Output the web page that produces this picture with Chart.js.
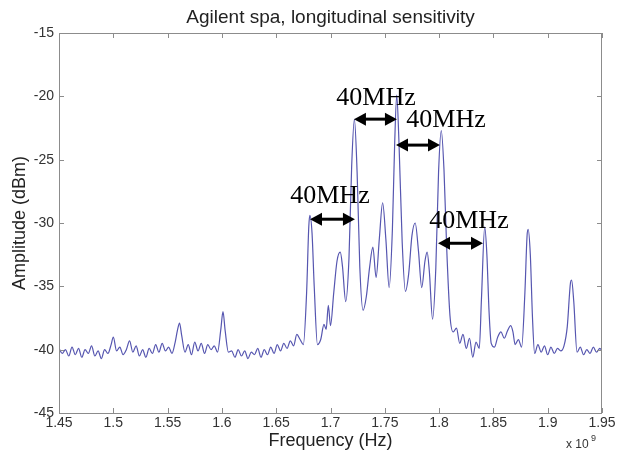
<!DOCTYPE html>
<html lang="en">
<head>
<meta charset="utf-8">
<title>Agilent spa, longitudinal sensitivity</title>
<style>
  html, body { margin: 0; padding: 0; background: #fff; }
  #wrap { width: 618px; height: 450px; }
</style>
</head>
<body>
<div id="wrap"><canvas id="spec" width="618" height="450"></canvas></div>
<script src="https://cdn.jsdelivr.net/npm/chart.js"></script>
<script>
  // frequency in GHz (axis shows x 10^9), amplitude in dBm
  const freq = [
    1.450, 1.453, 1.456, 1.459, 1.462, 1.465, 1.468, 1.471, 1.474, 1.477,
    1.480, 1.483, 1.486, 1.489, 1.492, 1.495, 1.498, 1.500, 1.503, 1.506,
    1.509, 1.512, 1.515, 1.518, 1.521, 1.524, 1.527, 1.530, 1.533, 1.536,
    1.539, 1.542, 1.545, 1.548, 1.551, 1.554, 1.557, 1.559, 1.561, 1.563,
    1.566, 1.569, 1.572, 1.575, 1.578, 1.581, 1.584, 1.587, 1.590, 1.593,
    1.596, 1.599, 1.601, 1.603, 1.606, 1.609, 1.612, 1.615, 1.618, 1.621,
    1.624, 1.627, 1.630, 1.633, 1.636, 1.639, 1.642, 1.645, 1.648, 1.651,
    1.654, 1.657, 1.660, 1.663, 1.666, 1.669, 1.672, 1.675, 1.678, 1.680,
    1.681, 1.683, 1.685, 1.688, 1.691, 1.694, 1.696, 1.698, 1.700, 1.703,
    1.706, 1.709, 1.711, 1.714, 1.717, 1.7195, 1.722, 1.7245, 1.727, 1.730,
    1.733, 1.736, 1.739, 1.742, 1.745, 1.748, 1.751, 1.754, 1.757, 1.759,
    1.761, 1.763, 1.766, 1.769, 1.772, 1.775, 1.778, 1.781, 1.784, 1.787,
    1.789, 1.791, 1.794, 1.797, 1.7995, 1.802, 1.8045, 1.807, 1.810, 1.813,
    1.816, 1.819, 1.822, 1.825, 1.828, 1.831, 1.834, 1.837, 1.839, 1.842,
    1.844, 1.846, 1.848, 1.851, 1.854, 1.857, 1.860, 1.863, 1.866, 1.868,
    1.870, 1.873, 1.876, 1.879, 1.881, 1.882, 1.884, 1.886, 1.888, 1.891,
    1.894, 1.897, 1.900, 1.903, 1.906, 1.909, 1.912, 1.915, 1.918, 1.921,
    1.922, 1.924, 1.927, 1.930, 1.933, 1.936, 1.939, 1.942, 1.945, 1.948,
    1.950
  ];
  const amp = [
    -39.9, -40.3, -40.0, -40.5, -39.8, -40.4, -39.9, -40.6, -40.0, -40.3,
    -39.7, -40.5, -40.1, -40.7, -40.0, -40.3, -39.6, -39.0, -40.1, -39.8,
    -40.4, -40.0, -39.3, -40.2, -39.7, -40.5, -40.0, -40.6, -39.9, -40.3,
    -39.6, -40.2, -39.5, -40.1, -39.8, -40.3, -39.4, -38.5, -37.9, -38.9,
    -40.2, -39.6, -40.4, -39.4, -40.1, -39.5, -40.3, -39.6, -40.0, -39.7,
    -40.2, -38.4, -37.0, -38.5, -40.2, -40.1, -40.6, -40.0, -40.5, -40.1,
    -40.7, -40.2, -40.4, -39.9, -40.6, -40.0, -40.4, -39.8, -40.3, -39.6,
    -40.1, -39.5, -39.9, -39.3, -39.7, -38.8, -39.2, -39.6, -35.5, -30.3,
    -29.4, -30.8, -35.0, -39.6, -39.2, -38.0, -38.4, -36.5, -38.1, -35.5,
    -33.0, -32.3, -33.4, -36.2, -32.8, -25.5, -21.8, -26.0, -33.5, -36.9,
    -35.8, -33.5, -31.9, -34.3, -31.2, -28.4, -31.3, -35.1, -30.5, -24.0,
    -19.9, -23.5, -31.5, -35.4, -34.0, -31.0, -30.0, -32.2, -35.1, -33.0,
    -32.3, -33.8, -37.6, -33.5, -26.0, -22.7, -25.8, -32.0, -37.3, -38.6,
    -38.3, -39.5, -38.8, -39.9, -39.1, -40.6, -39.4, -39.9, -36.0, -30.3,
    -32.5, -37.0, -39.5, -39.8, -39.0, -38.6, -39.1, -38.5, -38.1, -38.6,
    -39.6, -39.2, -39.8, -35.5, -31.0, -30.5, -32.5, -37.5, -40.3, -39.6,
    -40.2, -39.7, -40.4, -39.8, -40.3, -39.9, -40.1, -39.7, -38.2, -34.7,
    -34.5, -36.2, -40.2, -39.8, -40.4, -40.0, -40.3, -39.8, -40.2, -39.9,
    -40.1
  ];

  // "40MHz" spacing marks between neighbouring peaks
  const markFrom = [1.6811, 1.7216, 1.7603, 1.7990];
  const markTo = [1.7225, 1.7612, 1.8008, 1.8404];
  const markAmp = [-29.7, -21.8, -23.85, -31.6];
  const labelFreq = [1.6995, 1.7419, 1.8064, 1.8275];
  const labelAmp = [-28.4, -20.65, -22.45, -30.4];
  const labelText = '40MHz';

  Chart.defaults.font.family = '"Liberation Sans", Arial, sans-serif';

  function arrow(ctx, x1, x2, y) {
    const head = 12, half = 6.5;
    ctx.beginPath();
    ctx.moveTo(x1 + head - 1, y);
    ctx.lineTo(x2 - head + 1, y);
    ctx.stroke();
    ctx.beginPath();
    ctx.moveTo(x1, y);
    ctx.lineTo(x1 + head, y - half);
    ctx.lineTo(x1 + head, y + half);
    ctx.closePath();
    ctx.fill();
    ctx.beginPath();
    ctx.moveTo(x2, y);
    ctx.lineTo(x2 - head, y - half);
    ctx.lineTo(x2 - head, y + half);
    ctx.closePath();
    ctx.fill();
  }

  const frame = {
    id: 'frame',
    afterDraw(chart) {
      const { ctx, chartArea: a, scales: { x, y } } = chart;
      ctx.save();
      // matlab style box with inward ticks
      ctx.strokeStyle = '#8c8c8c';
      ctx.lineWidth = 1;
      ctx.strokeRect(a.left + 0.5, a.top + 0.5, a.right - a.left - 1, a.bottom - a.top);
      ctx.beginPath();
      for (const t of x.ticks) {
        const px = Math.round(x.getPixelForValue(t.value)) + 0.5;
        ctx.moveTo(px, a.bottom); ctx.lineTo(px, a.bottom - 5);
        ctx.moveTo(px, a.top); ctx.lineTo(px, a.top + 5);
      }
      for (const t of y.ticks) {
        const py = Math.round(y.getPixelForValue(t.value)) + 0.5;
        ctx.moveTo(a.left, py); ctx.lineTo(a.left + 5, py);
        ctx.moveTo(a.right, py); ctx.lineTo(a.right - 5, py);
      }
      ctx.stroke();

      // exponent
      ctx.fillStyle = '#333';
      ctx.textAlign = 'left';
      ctx.textBaseline = 'alphabetic';
      ctx.font = '12px "Liberation Sans", Arial, sans-serif';
      ctx.fillText('x 10', 566, 448);
      ctx.font = '9px "Liberation Sans", Arial, sans-serif';
      ctx.fillText('9', 591, 441);

      // spacing arrows and labels
      ctx.fillStyle = '#000';
      ctx.strokeStyle = '#000';
      ctx.lineWidth = 3;
      for (let i = 0; i < markFrom.length; i++) {
        arrow(ctx, x.getPixelForValue(markFrom[i]), x.getPixelForValue(markTo[i]),
          y.getPixelForValue(markAmp[i]));
      }
      ctx.font = '26px "Liberation Serif", "Times New Roman", serif';
      ctx.textAlign = 'center';
      for (let i = 0; i < labelFreq.length; i++) {
        ctx.fillText(labelText, x.getPixelForValue(labelFreq[i]), y.getPixelForValue(labelAmp[i]));
      }
      ctx.restore();
    }
  };

  new Chart(document.getElementById('spec'), {
    type: 'line',
    data: {
      datasets: [{
        data: freq.map((f, i) => ({ x: f, y: amp[i] })),
        borderColor: 'rgb(86, 86, 176)',
        borderWidth: 1.2,
        pointRadius: 0,
        cubicInterpolationMode: 'monotone',
        fill: false
      }]
    },
    options: {
      responsive: false,
      animation: false,
      devicePixelRatio: 1,
      layout: { padding: { left: 0, right: 16, top: 0, bottom: 0 } },
      plugins: {
        legend: { display: false },
        tooltip: { enabled: false },
        title: {
          display: true,
          fullSize: false,
          text: 'Agilent spa, longitudinal sensitivity',
          color: '#222',
          font: { size: 19, weight: 'normal' },
          padding: { top: 6, bottom: 4.2 }
        }
      },
      scales: {
        x: {
          type: 'linear',
          min: 1.45,
          max: 1.95,
          afterFit: s => { s.height = 37; },
          grid: { display: true, drawOnChartArea: false, drawTicks: false },
          border: { display: false },
          ticks: {
            stepSize: 0.05,
            padding: 2,
            color: '#333',
            font: { size: 14 },
            maxRotation: 0,
            callback: v => String(Number(v.toFixed(2)))
          },
          title: {
            display: true,
            text: 'Frequency (Hz)',
            color: '#222',
            font: { size: 18 },
            padding: { top: 0, bottom: -2 }
          }
        },
        y: {
          min: -45,
          max: -15,
          afterFit: s => { s.width = 59; },
          grid: { display: true, drawOnChartArea: false, drawTicks: false },
          border: { display: false },
          ticks: {
            stepSize: 5,
            padding: 5,
            color: '#333',
            font: { size: 14 },
            callback: v => String(v)
          },
          title: {
            display: true,
            text: 'Amplitude (dBm)',
            color: '#222',
            font: { size: 18 },
            padding: { top: 9, bottom: 0 }
          }
        }
      }
    },
    plugins: [frame]
  });
</script>
</body>
</html>
